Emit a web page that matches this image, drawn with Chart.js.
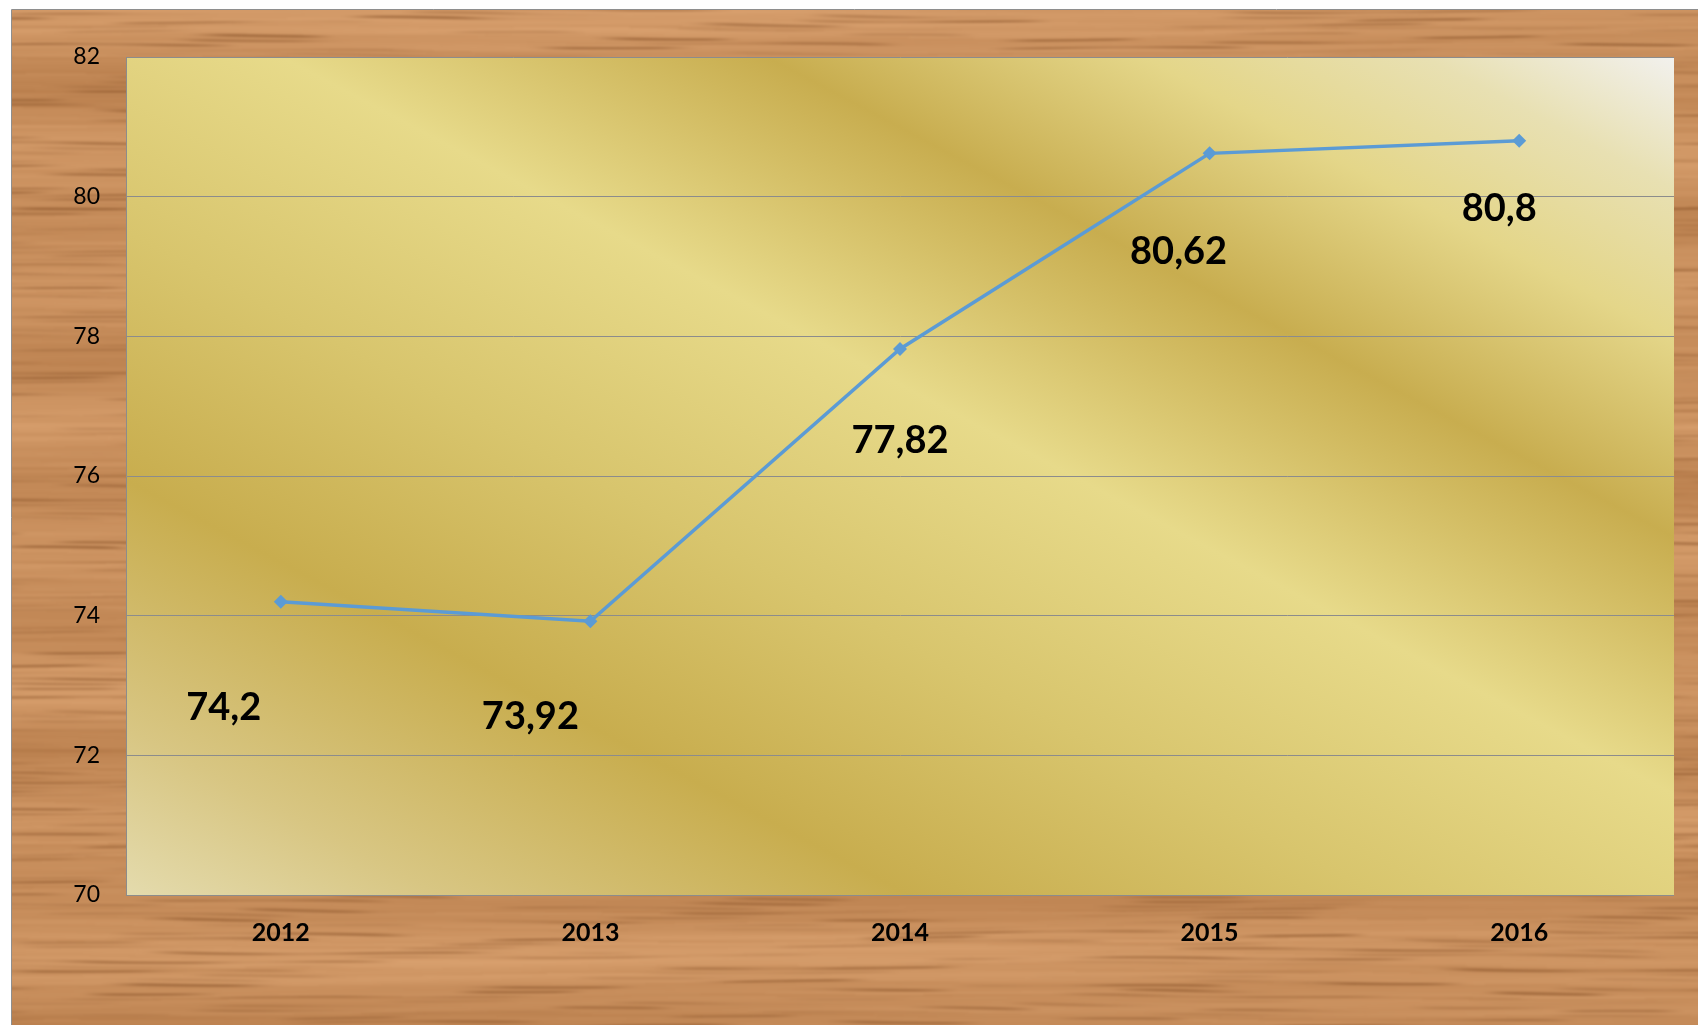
<!DOCTYPE html>
<html>
<head>
<meta charset="utf-8">
<script src="https://cdn.jsdelivr.net/npm/chart.js@4/dist/chart.umd.min.js"></script>
<style>
  html, body { margin: 0; padding: 0; background: #ffffff; }
  #wrap { width: 1698px; height: 1025px; position: relative; }
</style>
</head>
<body>
<div id="wrap"><canvas id="c" width="1698" height="1025"></canvas></div>
<script>
// ---- data ----
const categories = ['2012', '2013', '2014', '2015', '2016'];
const values = [74.2, 73.92, 77.82, 80.62, 80.8];
const valueLabels = ['74,2', '73,92', '77,82', '80,62', '80,8'];
const yTicks = [70, 72, 74, 76, 78, 80, 82];

// ---- label placement (pixels relative to each point) ----
const labelDX = [-57, -60, 0, -31, -20];
const labelDY = [106, 95, 92, 98, 68];

// decorative wood grain (background only)
function hsh(n) { const v = Math.sin(n * 12.9898 + 78.233) * 43758.5453; return v - Math.floor(v); }
function smooth(a, b, v) { const t = Math.max(0, Math.min(1, (v - a) / (b - a))); return t * t * (3 - 2 * t); }
function woodTexture(w, h) {
  const c = document.createElement('canvas');
  c.width = w; c.height = h;
  const g = c.getContext('2d');
  const img = g.createImageData(w, h);
  const d = img.data;
  const light = [222, 166, 116], mid = [194, 136, 86], dark = [138, 84, 42];
  const BH = 4.5;
  for (let y = 0; y < h; y++) {
    for (let x = 0; x < w; x++) {
      const yy = y + 2.2 * Math.sin(x * 0.004 + y * 0.03) + 0.8 * Math.sin(x * 0.017 + y * 0.2);
      const band = Math.floor(yy / BH);
      const fy = yy / BH - band;
      const prof = Math.exp(-((fy - 0.5) * (fy - 0.5)) / 0.06);
      const f = 0.005 + 0.014 * hsh(band);
      const ph = hsh(band + 100) * 6.283;
      const dash = smooth(0.0, 0.8, Math.sin(x * f + ph) * 0.7 + 0.3 * Math.sin(x * 0.031 + band));
      const str = 0.2 + 0.8 * Math.pow(hsh(band + 200), 1.2);
      let dk = prof * dash * str * 0.8;
      const b2 = Math.floor(yy / 2.5);
      let L = 0.5 + 0.25 * Math.sin(yy * 0.047 + 1.0) * (0.6 + 0.4 * Math.sin(x * 0.0025 + yy * 0.02))
            + 0.3 * (hsh(b2 + 300) - 0.5) * (0.6 + 0.4 * Math.sin(x * 0.01 + b2));
      L = Math.max(0, Math.min(1, L));
      const i = (y * w + x) * 4;
      for (let k = 0; k < 3; k++) {
        let v = mid[k] + (light[k] - mid[k]) * (L - 0.35) / 0.65;
        v = v * (1 - dk) + dark[k] * dk;
        d[i + k] = v;
      }
      d[i + 3] = 255;
    }
  }
  g.putImageData(img, 0, 0);
  return c;
}

const bgPlugin = {
  id: 'bg',
  beforeDraw(chart) {
    const ctx = chart.ctx;
    const W = chart.width, H = chart.height;
    ctx.save();
    ctx.fillStyle = '#ffffff';
    ctx.fillRect(0, 0, W, H);
    if (!chart.$wood) chart.$wood = woodTexture(W - 8, H - 6);
    ctx.save();
    ctx.beginPath();
    ctx.rect(12, 10, W - 12, H - 10);
    ctx.clip();
    ctx.filter = 'blur(1px)';
    ctx.drawImage(chart.$wood, 10, 8);
    ctx.filter = 'none';
    ctx.restore();
    ctx.strokeStyle = '#8e8e8e';
    ctx.lineWidth = 1;
    ctx.beginPath();
    ctx.moveTo(11.5, H); ctx.lineTo(11.5, 9.5); ctx.lineTo(W, 9.5);
    ctx.stroke();
    // plot area gradient
    const a = chart.chartArea;
    const dx = 0.468, dy = -0.884;
    const p = (x, y) => dx * x + dy * y;
    const p0 = p(a.left, a.bottom), p1 = p(a.right, a.top);
    const len = p1 - p0;
    const gr = ctx.createLinearGradient(a.left, a.bottom, a.left + dx * len, a.bottom + dy * len);
    gr.addColorStop(0.0, '#e4dbad');
    gr.addColorStop(0.10, '#d8c683');
    gr.addColorStop(0.25, '#c8ad4e');
    gr.addColorStop(0.40, '#d8c56d');
    gr.addColorStop(0.555, '#e7da8a');
    gr.addColorStop(0.71, '#c8ad4f');
    gr.addColorStop(0.83, '#e4d689');
    gr.addColorStop(0.92, '#e8e0b2');
    gr.addColorStop(1.0, '#f2f1ee');
    ctx.fillStyle = gr;
    ctx.fillRect(a.left, a.top, a.right - a.left, a.bottom - a.top);
    ctx.restore();
  }
};

const labelPlugin = {
  id: 'vlabels',
  afterDatasetsDraw(chart) {
    const ctx = chart.ctx;
    const meta = chart.getDatasetMeta(0);
    ctx.save();
    ctx.font = 'bold 38px Lato, "Open Sans", sans-serif';
    ctx.fillStyle = '#000000';
    ctx.textAlign = 'center';
    ctx.textBaseline = 'middle';
    meta.data.forEach((pt, i) => {
      ctx.fillText(valueLabels[i], pt.x + labelDX[i], pt.y + labelDY[i]);
    });
    ctx.restore();
  }
};

new Chart(document.getElementById('c'), {
  type: 'line',
  data: {
    labels: categories,
    datasets: [{
      data: values,
      borderColor: '#5b9bd5',
      backgroundColor: '#5b9bd5',
      borderWidth: 3.5,
      pointStyle: 'rectRot',
      pointRadius: 7,
      pointBorderWidth: 0,
      pointBackgroundColor: '#5b9bd5',
      tension: 0,
      fill: false
    }]
  },
  options: {
    responsive: false,
    animation: false,
    events: [],
    layout: { padding: { left: 0, top: 57, right: 24, bottom: 0 } },
    plugins: { legend: { display: false }, tooltip: { enabled: false } },
    scales: {
      x: {
        type: 'category',
        offset: true,
        grid: { display: false, drawTicks: false },
        border: { display: false },
        ticks: {
          color: '#000000',
          padding: 23,
          font: { family: 'Lato, "Open Sans", sans-serif', size: 25, weight: 'bold' },
          maxRotation: 0
        },
        afterFit(s) { s.height = 130; }
      },
      y: {
        min: yTicks[0],
        max: yTicks[yTicks.length - 1],
        afterBuildTicks(s) { s.ticks = yTicks.map(v => ({ value: v })); },
        grid: { color: '#8c8c8c', lineWidth: 1, drawTicks: false },
        border: { display: true, color: '#8c8c8c', width: 1 },
        ticks: {
          color: '#000000',
          padding: 26,
          font: { family: 'Lato, "Open Sans", sans-serif', size: 23 }
        },
        afterFit(s) { s.width = 126; }
      }
    }
  },
  plugins: [bgPlugin, labelPlugin]
});
</script>
</body>
</html>
